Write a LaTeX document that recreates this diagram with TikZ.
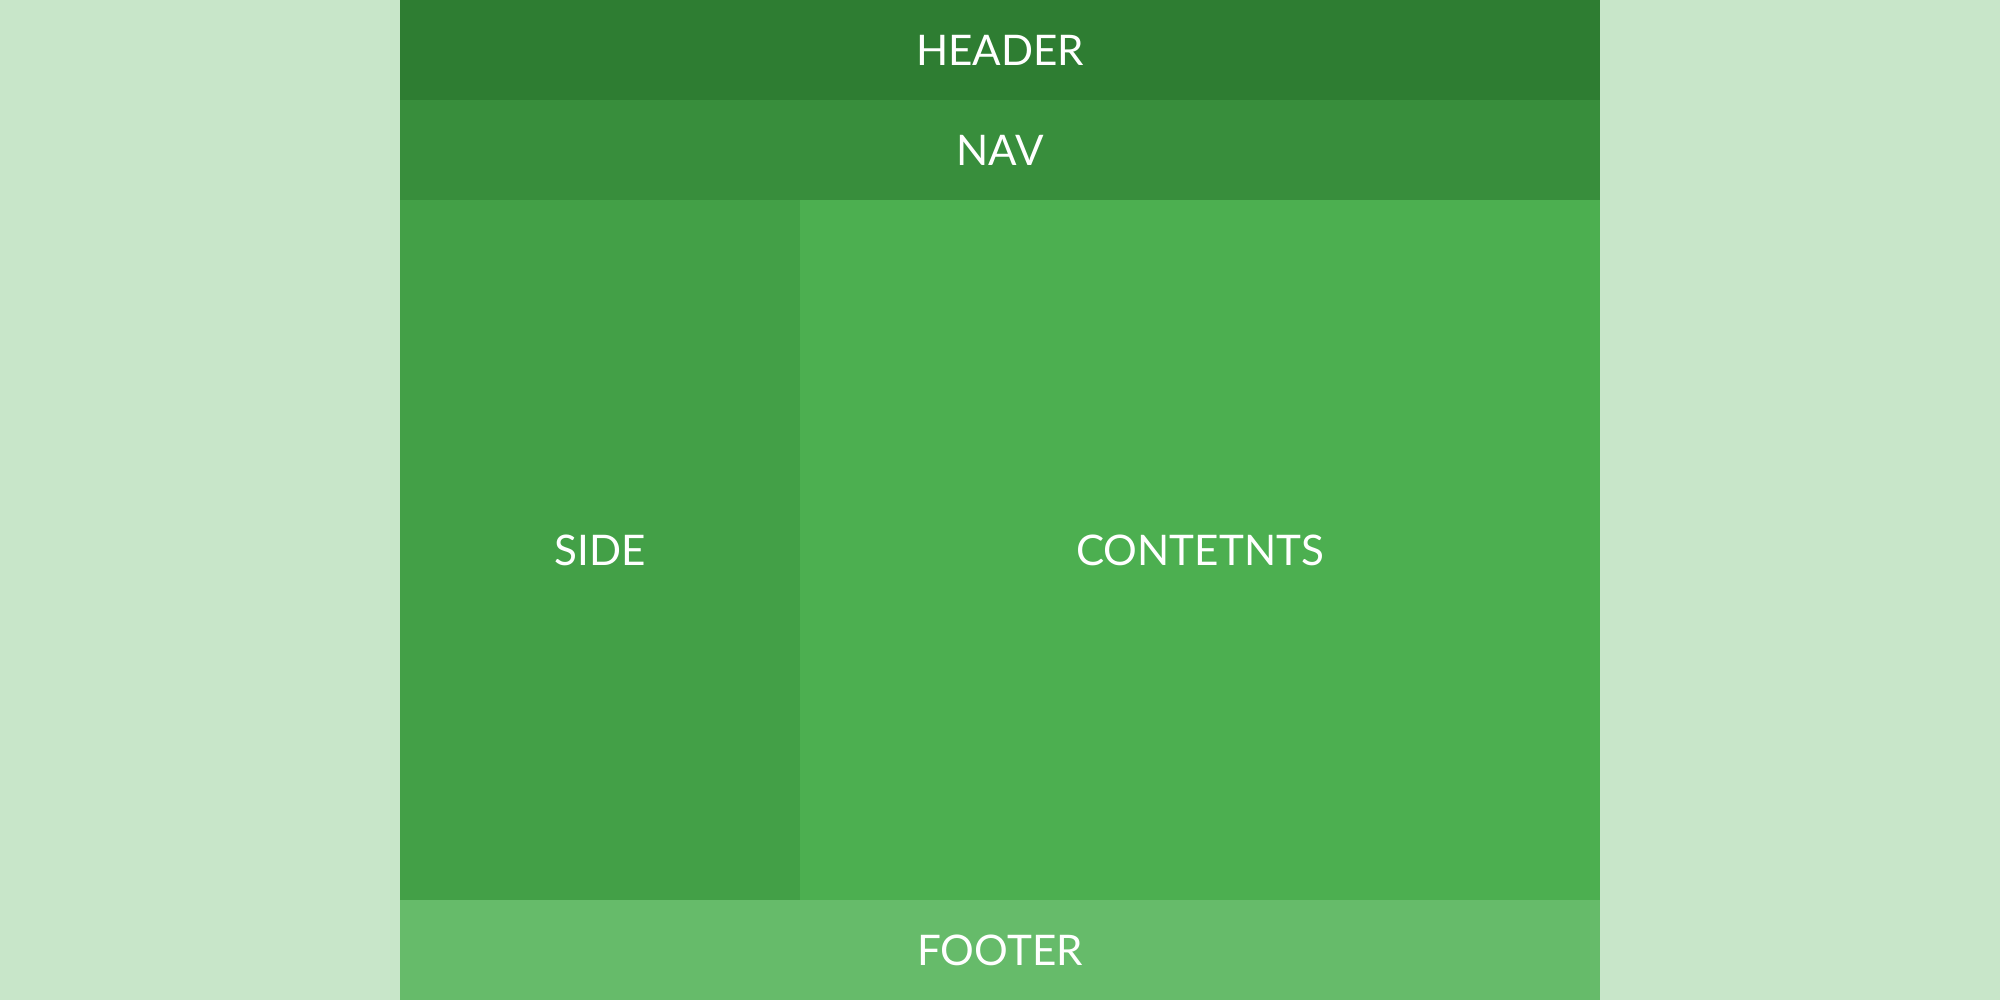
\documentclass[tikz,border=0pt]{standalone}
\usepackage{fontspec}
\setmainfont{Lato}
\definecolor{pagebg}{HTML}{C8E6C9}
\definecolor{headerclr}{HTML}{2E7D32}
\definecolor{navclr}{HTML}{388E3C}
\definecolor{sideclr}{HTML}{43A047}
\definecolor{contentclr}{HTML}{4CAF50}
\definecolor{footerclr}{HTML}{66BB6A}
\tikzset{
    block/.style={inner sep=0pt, outer sep=0pt, text=white,
        font=\fontsize{12}{14}\selectfont},
}
\begin{document}
\begin{tikzpicture}
    \fill[pagebg] (0, 0) rectangle (20, 10);
    \useasboundingbox (0, 0) rectangle (20, 10);
    \node[block, fill=headerclr, minimum width=12cm, minimum height=1cm] (header) at (10, 9.5) {HEADER};
    \node[block, fill=navclr, minimum width=12cm, minimum height=1cm] (nav) at (10, 8.5) {NAV};
    \node[block, fill=sideclr, minimum width=4cm, minimum height=7cm] (side) at (6, 4.5) {SIDE};
    \node[block, fill=contentclr, minimum width=8cm, minimum height=7cm] (contents) at (12, 4.5) {CONTETNTS};
    \node[block, fill=footerclr, minimum width=12cm, minimum height=1cm] (footer) at (10, 0.5) {FOOTER};
\end{tikzpicture}
\end{document}
